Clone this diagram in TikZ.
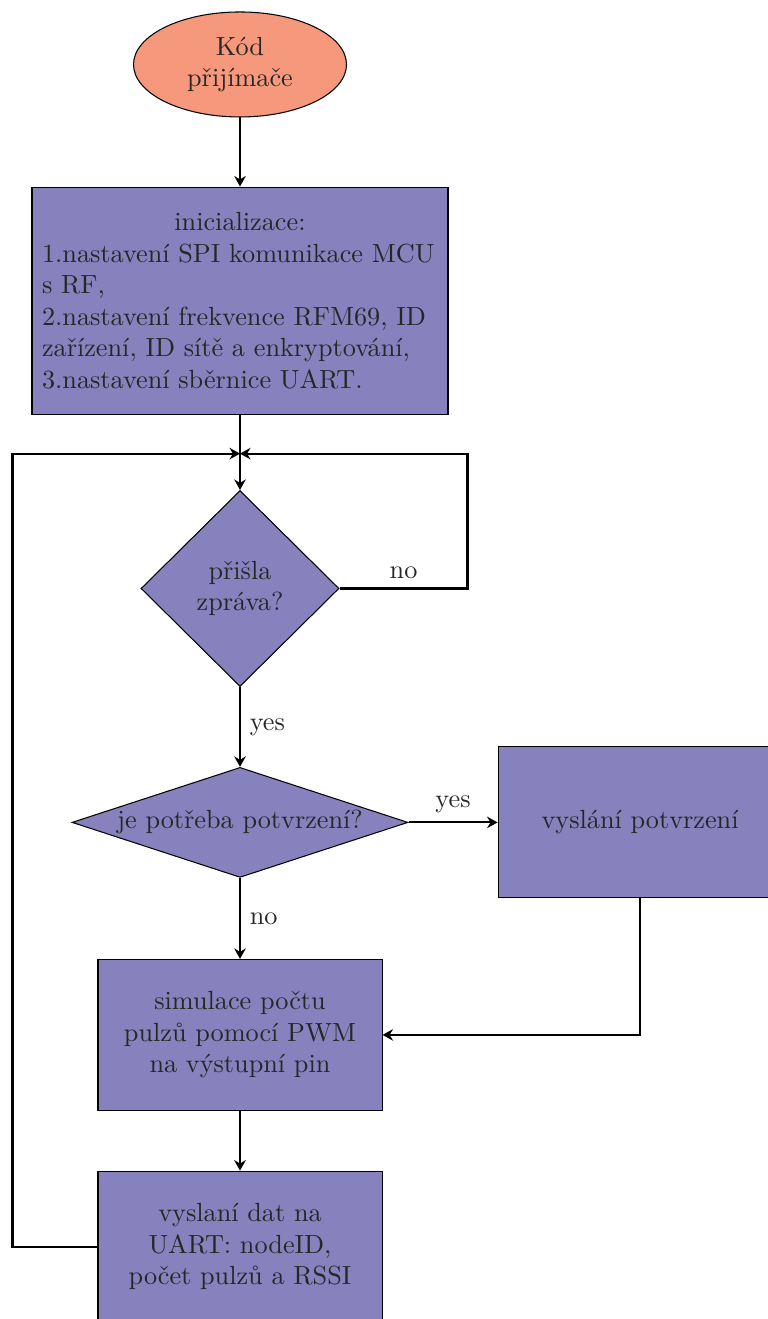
\documentclass[tikz,border=0pt]{standalone}
\usepackage{fontspec}
\usetikzlibrary{positioning,arrows.meta,shapes.geometric}
\definecolor{startfill}{RGB}{245,152,123}
\definecolor{boxfill}{RGB}{135,129,189}
\tikzset{
  startnode/.style = {draw, ellipse, fill=startfill, align=center,
                      minimum width=2.854cm, minimum height=1.407cm, inner sep=2pt},
  proc/.style      = {draw, rectangle, fill=boxfill, align=center,
                      minimum width=3.806cm, minimum height=2.023cm, inner sep=2pt},
  initbox/.style   = {proc, align=left, text width=5.306cm, inner xsep=0.134cm,
                      minimum height=3.042cm},
  decision/.style  = {draw, diamond, fill=boxfill, align=center, inner sep=0pt},
  edge/.style      = {-{Stealth[length=4pt,width=4.4pt]}, thick},
}

\begin{document}
\begin{tikzpicture}[text=black!85]
  \useasboundingbox (-3.216,0.864) rectangle (7.062,-16.810);

  \node[startnode] (start) at (0,0) {Kód\\přijímače};
  \node[initbox, below=0.925cm of start] (init)
    {\makebox[\hsize]{inicializace:}\\
     1.nastavení SPI komunikace MCU\\
     s RF,\\
     2.nastavení frekvence RFM69, ID\\
     zařízení, ID sítě a enkryptování,\\
     3.nastavení sběrnice UART.};
  \coordinate[below=0.523cm of init] (merge);
  \node[decision, minimum width=2.653cm, minimum height=2.626cm,
        below=1.01cm of init] (ask) {přišla\\zpráva?};
  \node[decision, aspect=3, minimum width=4.502cm, minimum height=1.474cm,
        below=1.07cm of ask] (need) {je potřeba potvrzení?};
  \node[proc, right=1.193cm of need] (confirm) {vyslání potvrzení};
  \node[proc, below=1.085cm of need] (sim) {simulace počtu\\pulzů pomocí PWM\\na výstupní pin};
  \node[proc, below=0.8cm of sim] (uart) {vyslaní dat na\\UART: nodeID,\\počet pulzů a RSSI};

  \draw[edge] (start) -- (init);
  \draw[edge] (init) -- (ask);
  \draw[edge] (ask.east) -- node[above] {no} ++(1.715,0) |- (merge);
  \draw[edge] (ask) -- node[right] {yes} (need);
  \draw[edge] (need) -- node[above] {yes} (confirm);
  \draw[edge] (need) -- node[right] {no} (sim);
  \draw[edge] (confirm) |- (sim);
  \draw[edge] (sim) -- (uart);
  \draw[edge] (uart.west) -- ++(-1.139,0) |- (merge);
\end{tikzpicture}
\end{document}
